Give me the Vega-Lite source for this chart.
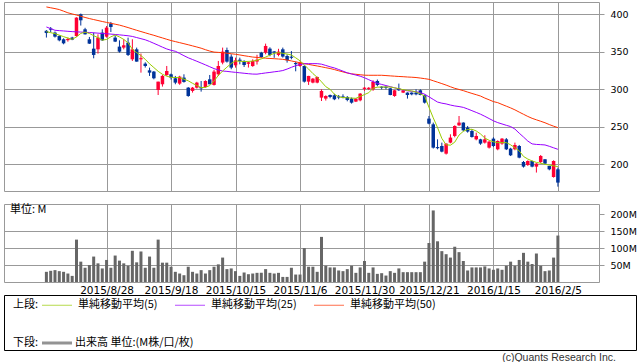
{
"$schema": "https://vega.github.io/schema/vega-lite/v6.json",
"padding": {"left": 3, "top": 1, "right": 0, "bottom": 0},
"background": "white",
"bounds": "flush",
"spacing": 13,
"resolve": {"scale": {"color": "independent", "stroke": "independent"}, "legend": {"color": "independent", "stroke": "independent"}},
"config": {
  "view": {"stroke": "#999999", "strokeWidth": 1},
  "axis": {"labelFont": "DejaVu Sans", "labelFontSize": 10.5, "labelColor": "#000000", "gridColor": "#999999", "gridWidth": 1, "tickColor": "#999999", "domain": false, "labelOverlap": false, "labelFlush": false},
  "legend": {"titleFont": "Noto Sans CJK JP", "titleFontSize": 11, "titleFontWeight": "normal", "titleColor": "#000000", "labelFont": "Noto Sans CJK JP", "labelFontSize": 11, "labelColor": "#000000", "symbolSize": 100, "columnPadding": 15, "titleOrient": "left", "titlePadding": 3, "titleAnchor": "middle", "titleBaseline": "middle", "orient": "none", "direction": "horizontal", "padding": 0}
},
"datasets": {"px": [
{"i":0,"date":"2015-08-10","open":378,"high":379,"low":369,"close":375,"volume":30,"ma5":376.9,"ma25":383.1,"ma50":409.8},
{"i":1,"date":"2015-08-11","open":381,"high":383,"low":376,"close":379.5,"volume":33,"ma5":375.5,"ma25":380.9,"ma50":408.7},
{"i":2,"date":"2015-08-12","open":375.6,"high":377,"low":369,"close":370.2,"volume":35,"ma5":374.2,"ma25":378.7,"ma50":407.6},
{"i":3,"date":"2015-08-13","open":371,"high":372,"low":364,"close":365.3,"volume":32,"ma5":372.2,"ma25":378.2,"ma50":406.3},
{"i":4,"date":"2015-08-14","open":366.7,"high":368,"low":360,"close":361.3,"volume":30,"ma5":370.2,"ma25":377.8,"ma50":404.2},
{"i":5,"date":"2015-08-17","open":365.5,"high":369,"low":363.5,"close":367.2,"volume":25,"ma5":368.3,"ma25":377.3,"ma50":402.0},
{"i":6,"date":"2015-08-18","open":369,"high":370,"low":365.5,"close":366.2,"volume":18,"ma5":366.7,"ma25":376.9,"ma50":400.5},
{"i":7,"date":"2015-08-19","open":371,"high":396,"low":370,"close":395.6,"volume":125,"ma5":369.8,"ma25":376.6,"ma50":399.0},
{"i":8,"date":"2015-08-20","open":400,"high":401,"low":385,"close":392,"volume":60,"ma5":374.5,"ma25":376.3,"ma50":397.4},
{"i":9,"date":"2015-08-21","open":380,"high":382,"low":373,"close":373.3,"volume":42,"ma5":376.2,"ma25":376.0,"ma50":395.8},
{"i":10,"date":"2015-08-24","open":366.7,"high":369.8,"low":360.5,"close":360.9,"volume":50,"ma5":374.5,"ma25":375.7,"ma50":394.3},
{"i":11,"date":"2015-08-25","open":354.2,"high":375.6,"low":341.3,"close":345.8,"volume":75,"ma5":371.5,"ma25":375.3,"ma50":393.0},
{"i":12,"date":"2015-08-26","open":353.3,"high":373.3,"low":347.6,"close":368.9,"volume":55,"ma5":368.9,"ma25":374.9,"ma50":391.7},
{"i":13,"date":"2015-08-27","open":375.6,"high":380,"low":364.4,"close":365.3,"volume":40,"ma5":365.5,"ma25":374.4,"ma50":390.4},
{"i":14,"date":"2015-08-28","open":370.2,"high":384.4,"low":368.9,"close":382.2,"volume":65,"ma5":366.5,"ma25":374.0,"ma50":389.2},
{"i":15,"date":"2015-08-31","open":387.6,"high":389.8,"low":376.4,"close":383.1,"volume":42,"ma5":370.0,"ma25":373.6,"ma50":388.0},
{"i":16,"date":"2015-09-01","open":368.9,"high":372,"low":363,"close":363.6,"volume":78,"ma5":372.4,"ma25":373.1,"ma50":386.8},
{"i":17,"date":"2015-09-02","open":356.9,"high":365.3,"low":348.9,"close":350.2,"volume":63,"ma5":369.8,"ma25":372.6,"ma50":385.6},
{"i":18,"date":"2015-09-03","open":355.6,"high":366.7,"low":353.3,"close":358.7,"volume":55,"ma5":366.5,"ma25":372.0,"ma50":384.0},
{"i":19,"date":"2015-09-04","open":362.2,"high":368.9,"low":344.4,"close":345.8,"volume":48,"ma5":362.0,"ma25":371.4,"ma50":382.3},
{"i":20,"date":"2015-09-07","open":340,"high":366.7,"low":337.8,"close":353.3,"volume":92,"ma5":353.3,"ma25":370.5,"ma50":380.5},
{"i":21,"date":"2015-09-08","open":353.3,"high":355.6,"low":336.9,"close":336.9,"volume":58,"ma5":348.9,"ma25":369.0,"ma50":378.7},
{"i":22,"date":"2015-09-09","open":340,"high":347.6,"low":322.2,"close":341.5,"volume":90,"ma5":345.0,"ma25":367.5,"ma50":377.0},
{"i":23,"date":"2015-09-10","open":334.2,"high":336,"low":329,"close":331.1,"volume":42,"ma5":340.0,"ma25":366.0,"ma50":375.3},
{"i":24,"date":"2015-09-11","open":325.3,"high":328.9,"low":317.8,"close":322.2,"volume":75,"ma5":334.0,"ma25":363.8,"ma50":373.6},
{"i":25,"date":"2015-09-14","open":323.6,"high":324.4,"low":313.3,"close":314.7,"volume":42,"ma5":329.0,"ma25":361.3,"ma50":372.0},
{"i":26,"date":"2015-09-15","open":299.1,"high":310.2,"low":292.4,"close":310.2,"volume":125,"ma5":324.0,"ma25":358.8,"ma50":370.2},
{"i":27,"date":"2015-09-16","open":306.7,"high":319.1,"low":303.6,"close":317.8,"volume":57,"ma5":320.0,"ma25":356.2,"ma50":368.5},
{"i":28,"date":"2015-09-17","open":319.1,"high":331.1,"low":317.8,"close":324.4,"volume":57,"ma5":317.5,"ma25":353.8,"ma50":366.7},
{"i":29,"date":"2015-09-18","open":320,"high":321,"low":313,"close":315.6,"volume":45,"ma5":316.0,"ma25":352.0,"ma50":365.0},
{"i":30,"date":"2015-09-24","open":314.7,"high":317.8,"low":306.7,"close":308.9,"volume":30,"ma5":315.7,"ma25":350.7,"ma50":363.6},
{"i":31,"date":"2015-09-25","open":307.6,"high":318,"low":306,"close":316.9,"volume":25,"ma5":315.6,"ma25":347.8,"ma50":362.2},
{"i":32,"date":"2015-09-28","open":315.6,"high":320,"low":308.9,"close":309.8,"volume":20,"ma5":313.5,"ma25":344.8,"ma50":360.8},
{"i":33,"date":"2015-09-29","open":302.2,"high":303,"low":290,"close":291.1,"volume":45,"ma5":311.3,"ma25":342.0,"ma50":359.4},
{"i":34,"date":"2015-09-30","open":297.8,"high":303.1,"low":295.6,"close":302.2,"volume":30,"ma5":308.0,"ma25":339.7,"ma50":357.9},
{"i":35,"date":"2015-10-01","open":302.2,"high":310,"low":301,"close":308.9,"volume":25,"ma5":305.0,"ma25":337.4,"ma50":356.4},
{"i":36,"date":"2015-10-02","open":303.1,"high":311.1,"low":296.9,"close":301.3,"volume":35,"ma5":302.3,"ma25":335.0,"ma50":354.8},
{"i":37,"date":"2015-10-05","open":303.1,"high":312,"low":302,"close":311.1,"volume":25,"ma5":302.5,"ma25":332.6,"ma50":352.8},
{"i":38,"date":"2015-10-06","open":313.3,"high":319.1,"low":306.7,"close":306.7,"volume":35,"ma5":305.0,"ma25":330.1,"ma50":351.0},
{"i":39,"date":"2015-10-07","open":305.8,"high":326,"low":305,"close":323.6,"volume":45,"ma5":311.0,"ma25":327.6,"ma50":349.6},
{"i":40,"date":"2015-10-08","open":320,"high":337.8,"low":317.8,"close":331.1,"volume":52,"ma5":318.5,"ma25":325.8,"ma50":349.2},
{"i":41,"date":"2015-10-09","open":335.6,"high":355.6,"low":333.3,"close":350.2,"volume":72,"ma5":324.4,"ma25":324.4,"ma50":348.9},
{"i":42,"date":"2015-10-13","open":352.4,"high":355.6,"low":335.6,"close":336.9,"volume":38,"ma5":329.5,"ma25":323.9,"ma50":348.1},
{"i":43,"date":"2015-10-14","open":343.6,"high":346.7,"low":326.7,"close":328.9,"volume":40,"ma5":334.5,"ma25":323.2,"ma50":347.4},
{"i":44,"date":"2015-10-15","open":332,"high":342.2,"low":328.9,"close":338.7,"volume":32,"ma5":337.8,"ma25":322.6,"ma50":346.7},
{"i":45,"date":"2015-10-16","open":339.5,"high":342.2,"low":333.3,"close":337.8,"volume":18,"ma5":337.4,"ma25":322.0,"ma50":345.8},
{"i":46,"date":"2015-10-19","open":337.8,"high":338.7,"low":329.8,"close":332.4,"volume":28,"ma5":337.0,"ma25":321.4,"ma50":344.8},
{"i":47,"date":"2015-10-20","open":334,"high":337,"low":329,"close":336,"volume":23,"ma5":337.2,"ma25":320.8,"ma50":343.9},
{"i":48,"date":"2015-10-21","open":331,"high":340,"low":330,"close":337.8,"volume":25,"ma5":337.6,"ma25":320.3,"ma50":343.0},
{"i":49,"date":"2015-10-22","open":337,"high":346,"low":333,"close":339.5,"volume":27,"ma5":338.8,"ma25":320.2,"ma50":342.5},
{"i":50,"date":"2015-10-23","open":348.9,"high":350,"low":342,"close":343.1,"volume":27,"ma5":340.5,"ma25":321.0,"ma50":342.0},
{"i":51,"date":"2015-10-26","open":348.9,"high":360.9,"low":346.7,"close":357.8,"volume":38,"ma5":343.0,"ma25":321.8,"ma50":341.5},
{"i":52,"date":"2015-10-27","open":354.2,"high":356,"low":344,"close":345.8,"volume":27,"ma5":345.5,"ma25":322.5,"ma50":341.1},
{"i":53,"date":"2015-10-28","open":350.5,"high":351,"low":342,"close":349,"volume":25,"ma5":348.0,"ma25":323.3,"ma50":340.8},
{"i":54,"date":"2015-10-29","open":345.8,"high":354,"low":344,"close":350.2,"volume":27,"ma5":348.9,"ma25":324.0,"ma50":340.4},
{"i":55,"date":"2015-10-30","open":353.3,"high":355.6,"low":342.2,"close":343.6,"volume":15,"ma5":348.0,"ma25":325.0,"ma50":340.0},
{"i":56,"date":"2015-11-02","open":344.4,"high":346.7,"low":335.6,"close":338.7,"volume":15,"ma5":347.0,"ma25":327.0,"ma50":339.0},
{"i":57,"date":"2015-11-04","open":343.5,"high":351,"low":340,"close":342,"volume":42,"ma5":345.8,"ma25":329.3,"ma50":337.8},
{"i":58,"date":"2015-11-05","open":335,"high":337,"low":324,"close":333.5,"volume":22,"ma5":342.0,"ma25":331.5,"ma50":336.6},
{"i":59,"date":"2015-11-06","open":331.1,"high":337,"low":330,"close":335.6,"volume":22,"ma5":338.0,"ma25":333.0,"ma50":335.4},
{"i":60,"date":"2015-11-09","open":331.1,"high":332,"low":309,"close":310.2,"volume":100,"ma5":332.5,"ma25":334.0,"ma50":334.3},
{"i":61,"date":"2015-11-10","open":310.2,"high":318,"low":305.8,"close":317.8,"volume":45,"ma5":327.0,"ma25":334.2,"ma50":333.2},
{"i":62,"date":"2015-11-11","open":308.9,"high":315,"low":308,"close":314.2,"volume":45,"ma5":321.0,"ma25":334.2,"ma50":332.1},
{"i":63,"date":"2015-11-12","open":308.9,"high":317,"low":308,"close":316.4,"volume":30,"ma5":316.0,"ma25":334.2,"ma50":331.1},
{"i":64,"date":"2015-11-13","open":288.9,"high":300,"low":284.4,"close":297.8,"volume":133,"ma5":310.0,"ma25":333.5,"ma50":330.0},
{"i":65,"date":"2015-11-16","open":287.6,"high":292,"low":285,"close":291.1,"volume":48,"ma5":303.5,"ma25":331.8,"ma50":328.8},
{"i":66,"date":"2015-11-17","open":292.4,"high":293,"low":288,"close":289.8,"volume":43,"ma5":300.0,"ma25":330.0,"ma50":327.7},
{"i":67,"date":"2015-11-18","open":292,"high":294,"low":285.5,"close":286.7,"volume":43,"ma5":293.5,"ma25":328.5,"ma50":326.3},
{"i":68,"date":"2015-11-19","open":290.5,"high":292.4,"low":286.7,"close":289,"volume":34,"ma5":290.0,"ma25":326.4,"ma50":324.7},
{"i":69,"date":"2015-11-20","open":290.5,"high":293.3,"low":288,"close":289,"volume":32,"ma5":289.0,"ma25":324.2,"ma50":323.2},
{"i":70,"date":"2015-11-24","open":289.8,"high":291,"low":284,"close":285.8,"volume":38,"ma5":288.7,"ma25":322.0,"ma50":321.7},
{"i":71,"date":"2015-11-25","open":287.6,"high":289,"low":280.9,"close":282.2,"volume":48,"ma5":288.3,"ma25":320.5,"ma50":320.6},
{"i":72,"date":"2015-11-26","open":283.6,"high":288,"low":283,"close":287.6,"volume":27,"ma5":288.0,"ma25":319.0,"ma50":320.0},
{"i":73,"date":"2015-11-27","open":285.3,"high":295,"low":284,"close":294.2,"volume":43,"ma5":290.5,"ma25":317.5,"ma50":319.4},
{"i":74,"date":"2015-11-30","open":300.5,"high":303.1,"low":297.8,"close":302.2,"volume":62,"ma5":293.0,"ma25":315.4,"ma50":318.8},
{"i":75,"date":"2015-12-01","open":300.5,"high":303,"low":299,"close":302,"volume":27,"ma5":295.5,"ma25":312.8,"ma50":318.7},
{"i":76,"date":"2015-12-02","open":300,"high":312,"low":298,"close":309.8,"volume":43,"ma5":301.5,"ma25":310.2,"ma50":318.7},
{"i":77,"date":"2015-12-03","open":311.1,"high":313,"low":304,"close":305.8,"volume":24,"ma5":302.8,"ma25":308.0,"ma50":318.7},
{"i":78,"date":"2015-12-04","open":303.5,"high":304,"low":300,"close":302,"volume":26,"ma5":303.1,"ma25":306.5,"ma50":318.7},
{"i":79,"date":"2015-12-07","open":303.5,"high":304,"low":300,"close":302,"volume":19,"ma5":303.1,"ma25":305.0,"ma50":318.3},
{"i":80,"date":"2015-12-08","open":301.3,"high":302,"low":292,"close":292.4,"volume":32,"ma5":303.1,"ma25":303.5,"ma50":317.9},
{"i":81,"date":"2015-12-09","open":291.1,"high":299,"low":290,"close":298.7,"volume":27,"ma5":302.0,"ma25":302.0,"ma50":317.5},
{"i":82,"date":"2015-12-10","open":301,"high":307.6,"low":297.8,"close":298.7,"volume":40,"ma5":300.8,"ma25":300.5,"ma50":317.1},
{"i":83,"date":"2015-12-11","open":295.6,"high":299.5,"low":295,"close":298.7,"volume":29,"ma5":299.5,"ma25":299.0,"ma50":316.8},
{"i":84,"date":"2015-12-14","open":295.6,"high":296,"low":287.6,"close":292.4,"volume":29,"ma5":298.5,"ma25":298.0,"ma50":316.4},
{"i":85,"date":"2015-12-15","open":295.6,"high":296,"low":292,"close":293.3,"volume":29,"ma5":297.8,"ma25":297.3,"ma50":316.1},
{"i":86,"date":"2015-12-16","open":295.6,"high":300,"low":292,"close":293.3,"volume":29,"ma5":296.5,"ma25":296.8,"ma50":315.7},
{"i":87,"date":"2015-12-17","open":298.7,"high":300,"low":292,"close":292.4,"volume":29,"ma5":294.0,"ma25":295.5,"ma50":315.0},
{"i":88,"date":"2015-12-18","open":292,"high":293,"low":281,"close":282.2,"volume":60,"ma5":291.0,"ma25":293.5,"ma50":314.2},
{"i":89,"date":"2015-12-21","open":260.9,"high":264.4,"low":253.3,"close":254.2,"volume":115,"ma5":276.0,"ma25":290.0,"ma50":313.3},
{"i":90,"date":"2015-12-22","open":253.3,"high":255.6,"low":221,"close":222.2,"volume":211,"ma5":262.0,"ma25":286.5,"ma50":311.4},
{"i":91,"date":"2015-12-24","open":223,"high":233.3,"low":220,"close":221.5,"volume":120,"ma5":249.0,"ma25":283.0,"ma50":309.5},
{"i":92,"date":"2015-12-25","open":224.4,"high":228.9,"low":216,"close":216.9,"volume":91,"ma5":234.5,"ma25":281.5,"ma50":307.6},
{"i":93,"date":"2015-12-28","open":214.2,"high":228,"low":213,"close":227.6,"volume":82,"ma5":226.0,"ma25":280.5,"ma50":305.6},
{"i":94,"date":"2015-12-29","open":228.9,"high":240,"low":228,"close":235.6,"volume":72,"ma5":225.5,"ma25":279.0,"ma50":303.4},
{"i":95,"date":"2015-12-30","open":237.8,"high":252,"low":236,"close":251.1,"volume":104,"ma5":229.5,"ma25":277.8,"ma50":301.3},
{"i":96,"date":"2016-01-04","open":252,"high":264.4,"low":251,"close":255.6,"volume":88,"ma5":239.0,"ma25":277.0,"ma50":299.8},
{"i":97,"date":"2016-01-05","open":255.6,"high":256,"low":244,"close":245.3,"volume":62,"ma5":244.0,"ma25":275.9,"ma50":298.2},
{"i":98,"date":"2016-01-06","open":248.9,"high":251.1,"low":242.2,"close":243.6,"volume":34,"ma5":246.5,"ma25":273.8,"ma50":296.3},
{"i":99,"date":"2016-01-07","open":244.4,"high":246.7,"low":235.6,"close":236.4,"volume":43,"ma5":246.7,"ma25":271.5,"ma50":294.5},
{"i":100,"date":"2016-01-08","open":233.3,"high":242.2,"low":232,"close":237.8,"volume":43,"ma5":244.5,"ma25":269.2,"ma50":292.8},
{"i":101,"date":"2016-01-12","open":233.3,"high":234,"low":226,"close":227.6,"volume":43,"ma5":240.5,"ma25":266.8,"ma50":291.0},
{"i":102,"date":"2016-01-13","open":228.9,"high":238.7,"low":227.6,"close":233.3,"volume":46,"ma5":235.0,"ma25":264.0,"ma50":288.3},
{"i":103,"date":"2016-01-14","open":222.2,"high":231,"low":221,"close":230.2,"volume":40,"ma5":232.0,"ma25":261.0,"ma50":286.0},
{"i":104,"date":"2016-01-15","open":234.2,"high":236,"low":223,"close":224.4,"volume":36,"ma5":230.0,"ma25":258.0,"ma50":283.6},
{"i":105,"date":"2016-01-18","open":220,"high":232,"low":218.7,"close":231.1,"volume":40,"ma5":228.9,"ma25":255.6,"ma50":282.2},
{"i":106,"date":"2016-01-19","open":227.6,"high":235,"low":226,"close":234.2,"volume":36,"ma5":228.9,"ma25":253.8,"ma50":279.8},
{"i":107,"date":"2016-01-20","open":233.3,"high":235,"low":219,"close":220,"volume":48,"ma5":228.9,"ma25":252.0,"ma50":277.5},
{"i":108,"date":"2016-01-21","open":220.9,"high":222,"low":211,"close":212,"volume":60,"ma5":226.0,"ma25":250.3,"ma50":275.2},
{"i":109,"date":"2016-01-22","open":220,"high":228.9,"low":218.7,"close":225.8,"volume":48,"ma5":222.0,"ma25":247.0,"ma50":272.6},
{"i":110,"date":"2016-01-25","open":224.4,"high":225.8,"low":208,"close":208.9,"volume":65,"ma5":218.0,"ma25":241.5,"ma50":269.6},
{"i":111,"date":"2016-01-26","open":203.1,"high":204.4,"low":195.6,"close":196.9,"volume":86,"ma5":210.5,"ma25":236.4,"ma50":266.7},
{"i":112,"date":"2016-01-27","open":199.1,"high":205.3,"low":197.8,"close":204.4,"volume":60,"ma5":207.0,"ma25":231.0,"ma50":263.8},
{"i":113,"date":"2016-01-28","open":204.4,"high":205,"low":196,"close":196.9,"volume":53,"ma5":204.5,"ma25":227.2,"ma50":261.3},
{"i":114,"date":"2016-01-29","open":196.9,"high":201.5,"low":189,"close":200.9,"volume":84,"ma5":202.5,"ma25":226.5,"ma50":259.3},
{"i":115,"date":"2016-02-01","open":203.1,"high":212.4,"low":201.3,"close":211.1,"volume":48,"ma5":201.5,"ma25":226.2,"ma50":257.4},
{"i":116,"date":"2016-02-02","open":206.7,"high":207,"low":200,"close":200.9,"volume":32,"ma5":200.0,"ma25":225.8,"ma50":255.4},
{"i":117,"date":"2016-02-03","open":197.8,"high":198,"low":192,"close":193.3,"volume":34,"ma5":199.0,"ma25":224.0,"ma50":253.0},
{"i":118,"date":"2016-02-04","open":183.1,"high":205.3,"low":182.2,"close":204.4,"volume":72,"ma5":198.0,"ma25":222.0,"ma50":250.8},
{"i":119,"date":"2016-02-05","open":193.3,"high":195.6,"low":170.2,"close":175.6,"volume":137,"ma5":196.9,"ma25":220.0,"ma50":248.9}
]},
"vconcat": [
  {
    "width": 595, "height": 189,
    "data": {"name": "px"},
    "encoding": {
      "x": {"field": "i", "type": "quantitative", "scale": {"domain": [-8.7, 127.4], "nice": false, "zero": false},
            "axis": {"values": [14, 29, 44, 59, 74, 89, 104, 119], "grid": true, "labels": false, "ticks": false, "domain": false, "title": null}}
    },
    "layer": [
      {"mark": {"type": "rule", "strokeWidth": 1},
       "encoding": {
         "y": {"field": "high", "type": "quantitative", "scale": {"domain": [164.4, 416.4], "nice": false, "zero": false},
               "axis": {"orient": "right", "values": [200, 250, 300, 350, 400], "grid": true, "ticks": true, "tickSize": 5, "labelPadding": 6, "labelFontSize": 9.5, "title": null}},
         "y2": {"field": "low"},
         "color": {"condition": {"test": "datum.close >= datum.open", "value": "#ff0033"}, "value": "#003399"}
       }},
      {"mark": {"type": "bar", "size": 3.5},
       "encoding": {
         "y": {"field": "open", "type": "quantitative", "scale": {"domain": [164.4, 416.4], "nice": false, "zero": false},
               "axis": {"orient": "right", "values": [200, 250, 300, 350, 400], "grid": true, "ticks": true, "tickSize": 5, "labelPadding": 6, "labelFontSize": 9.5, "title": null}},
         "y2": {"field": "close"},
         "color": {"condition": {"test": "datum.close >= datum.open", "value": "#ff0033"}, "value": "#003399"}
       }},
      {"mark": {"type": "line", "strokeWidth": 1},
       "encoding": {
         "y": {"field": "ma50", "type": "quantitative", "scale": {"domain": [164.4, 416.4], "nice": false, "zero": false},
               "axis": {"orient": "right", "values": [200, 250, 300, 350, 400], "grid": true, "ticks": true, "tickSize": 5, "labelPadding": 6, "labelFontSize": 9.5, "title": null}},
         "color": {"datum": "単純移動平均(50)", "scale": {"domain": ["単純移動平均(5)", "単純移動平均(25)", "単純移動平均(50)"], "range": ["#99cc00", "#9900ff", "#ff3300"]}, "legend": null}
       }},
      {"mark": {"type": "line", "strokeWidth": 1},
       "encoding": {
         "y": {"field": "ma25", "type": "quantitative", "scale": {"domain": [164.4, 416.4], "nice": false, "zero": false},
               "axis": {"orient": "right", "values": [200, 250, 300, 350, 400], "grid": true, "ticks": true, "tickSize": 5, "labelPadding": 6, "labelFontSize": 9.5, "title": null}},
         "color": {"datum": "単純移動平均(25)", "scale": {"domain": ["単純移動平均(5)", "単純移動平均(25)", "単純移動平均(50)"], "range": ["#99cc00", "#9900ff", "#ff3300"]}, "legend": null}
       }},
      {"mark": {"type": "line", "strokeWidth": 1},
       "encoding": {
         "y": {"field": "ma5", "type": "quantitative", "scale": {"domain": [164.4, 416.4], "nice": false, "zero": false},
               "axis": {"orient": "right", "values": [200, 250, 300, 350, 400], "grid": true, "ticks": true, "tickSize": 5, "labelPadding": 6, "labelFontSize": 9.5, "title": null}},
         "color": {"datum": "単純移動平均(5)", "scale": {"domain": ["単純移動平均(5)", "単純移動平均(25)", "単純移動平均(50)"], "range": ["#99cc00", "#9900ff", "#ff3300"]}, "legend": null}
       }}
    ]
  },
  {
    "width": 595, "height": 78,
    "encoding": {
      "x": {"field": "i", "type": "quantitative", "scale": {"domain": [-8.7, 127.4], "nice": false, "zero": false},
            "axis": {"values": [14, 29, 44, 59, 74, 89, 104, 119], "grid": true, "labels": true, "ticks": false, "domain": false, "title": null, "labelPadding": 3,
                     "labelExpr": "['2015/8/28','2015/9/18','2015/10/15','2015/11/6','2015/11/30','2015/12/21','2016/1/15','2016/2/5'][round((datum.value-14)/15)]"}}
    },
    "layer": [
      {"data": {"name": "px"},
       "mark": {"type": "bar", "size": 3, "color": "#666666"},
       "encoding": {
         "y": {"field": "volume", "type": "quantitative", "scale": {"domain": [0, 230], "nice": false, "zero": true},
               "axis": {"orient": "right", "values": [50, 100, 150, 200], "grid": true, "ticks": true, "tickSize": 5, "labelPadding": 6, "labelFontSize": 9.5, "title": null,
                        "labelExpr": "datum.value + 'M'",
                        "gridOpacity": {"condition": {"test": "datum.value === 200", "value": 0}, "value": 1}}}
       }},
      {"data": {"values": [{"i": -8.7, "top": 230, "label": "単位: M"}]},
       "mark": {"type": "text", "align": "left", "baseline": "middle", "dx": 1, "dy": 6, "font": "Noto Sans CJK JP", "fontSize": 11, "color": "#000000"},
       "encoding": {
         "y": {"field": "top", "type": "quantitative", "scale": {"domain": [0, 230], "nice": false, "zero": true},
               "axis": {"orient": "right", "values": [50, 100, 150, 200], "grid": true, "ticks": true, "tickSize": 5, "labelPadding": 6, "labelFontSize": 9.5, "title": null,
                        "labelExpr": "datum.value + 'M'",
                        "gridOpacity": {"condition": {"test": "datum.value === 200", "value": 0}, "value": 1}}},
         "text": {"field": "label"}
       }}
    ]
  },
  {
    "width": 632, "height": 55,
    "view": {"stroke": "#000000", "strokeWidth": 1},
    "title": {"text": "(c)Quants Research Inc.", "orient": "bottom", "anchor": "end", "frame": "group", "baseline": "bottom", "offset": 13, "dx": -20, "font": "Liberation Sans", "fontSize": 10.5, "fontWeight": "normal", "color": "#333333"},
    "layer": [
      {"data": {"values": []},
       "mark": {"type": "point"},
       "encoding": {
         "color": {"field": "series", "type": "nominal",
                   "scale": {"domain": ["単純移動平均(5)", "単純移動平均(25)", "単純移動平均(50)"], "range": ["#99cc00", "#9900ff", "#ff3300"]},
                   "legend": {"title": "上段:", "orient": "none", "legendX": 9, "legendY": 4.5, "direction": "horizontal", "symbolType": "M-1.1,0H4.9", "symbolSize": 100, "symbolStrokeWidth": 1, "labelOffset": 25}}
       }},
      {"data": {"values": []},
       "mark": {"type": "point"},
       "encoding": {
         "stroke": {"field": "series", "type": "nominal",
                    "scale": {"domain": ["出来高 単位:(M株/口/枚)"], "range": ["#666666"]},
                    "legend": {"title": "下段:", "orient": "none", "legendX": 9, "legendY": 41.5, "direction": "horizontal", "symbolType": "M-1.3,0H4.7", "symbolSize": 100, "symbolStrokeWidth": 3, "labelOffset": 20}}
       }}
    ]
  }
]
}
